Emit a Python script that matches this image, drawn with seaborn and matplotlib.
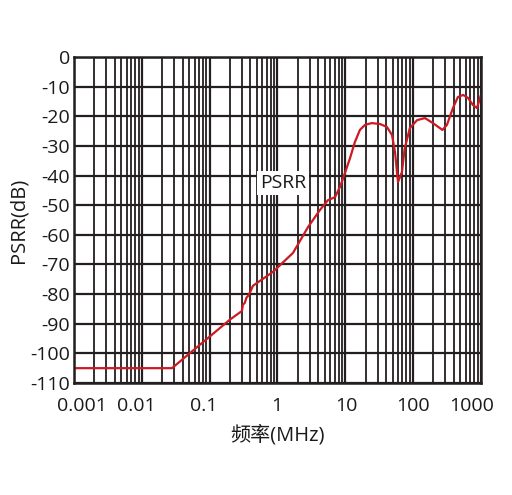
import seaborn as sns
import pandas as pd
import matplotlib.pyplot as plt
import matplotlib.transforms as mtrans
from matplotlib.ticker import LogLocator, FixedLocator, NullFormatter

# PSRR curve (frequency in MHz, PSRR in dB)
freq_mhz = [0.001, 0.0279, 0.20, 0.30, 0.31, 0.33, 0.35, 0.37, 0.40, 0.436,
            0.861, 1.70, 2.83, 4.25, 5.57, 7.08, 8.5, 9.93, 11.8, 13.9,
            16.5, 19.6, 24.6, 32.6, 41.3, 49.0, 54.3, 60.1, 68.8, 75.3,
            89.9, 115, 150, 197, 272, 317, 389, 460, 550, 650,
            767, 879, 1000]
psrr_db = [-105, -105, -88.6, -85.7, -83.6, -83.0, -81.2, -80.6, -79.2, -77.2,
           -72.5, -66.1, -57.4, -51.6, -48.3, -47.3, -43.5, -39.1, -34.1, -28.7,
           -24.6, -22.9, -22.3, -22.6, -23.6, -26.3, -32.0, -42.2, -38.8, -31.0,
           -24.0, -21.3, -20.6, -22.3, -24.6, -22.9, -17.2, -13.5, -12.8, -13.8,
           -16.2, -17.2, -13.0]

x_ticks = [0.001, 0.01, 0.1, 1, 10, 100, 1000]
x_ticklabels = ['0.001', '0.01', '0.1', '1', '10', '100', '1000']
y_ticks = list(range(0, -120, -10))

df = pd.DataFrame({'freq': freq_mhz, 'psrr': psrr_db})

sns.set_style('white')
plt.rcParams['font.family'] = ['Open Sans', 'Noto Sans CJK SC', 'DejaVu Sans']
plt.rcParams['axes.unicode_minus'] = False

fig = plt.figure(figsize=(5.12, 4.95), dpi=100)
ax = fig.add_axes([0.1445, 0.2263, 0.7945, 0.6585])

ink = '#231f20'
txt = '#1a1a1a'
ax.set_xscale('log')
ax.set_xlim(0.001, 1000)
ax.set_ylim(-110, 0)

ax.xaxis.set_major_locator(FixedLocator(x_ticks))
ax.set_xticklabels(x_ticklabels)
ax.xaxis.set_minor_locator(LogLocator(base=10, subs=range(2, 10), numticks=20))
ax.xaxis.set_minor_formatter(NullFormatter())
ax.set_yticks(y_ticks)

ax.grid(True, which='major', color=ink, linewidth=1.6)
ax.grid(True, which='minor', axis='x', color=ink, linewidth=1.3)
ax.set_axisbelow(True)
for s in ax.spines.values():
    s.set_color(ink)
    s.set_linewidth(1.8)

sns.lineplot(data=df, x='freq', y='psrr', color='#cc1a22', linewidth=1.6, ax=ax)

ax.tick_params(axis='both', which='both', length=0, labelsize=14, colors=txt)
ax.tick_params(axis='x', pad=10)
ax.tick_params(axis='y', pad=3)

# the original nudges some frequency labels sideways (pixels)
nudge = [8, -5, -6, -1, 1, 0, -9]
for lab, dx in zip(ax.get_xticklabels(), nudge):
    lab.set_transform(lab.get_transform() + mtrans.ScaledTranslation(dx / 100, 0, fig.dpi_scale_trans))

ax.set_xlabel('频率(MHz)', fontsize=14.5, color=txt, labelpad=7)
ax.set_ylabel('PSRR(dB)', fontsize=14.5, color=txt, labelpad=1)

ax.text(1.21, -42.5, 'PSRR', fontsize=14, color=txt, ha='center', va='center',
        bbox=dict(facecolor='white', edgecolor='none', pad=2))

fig.savefig('out.png', dpi=100)
